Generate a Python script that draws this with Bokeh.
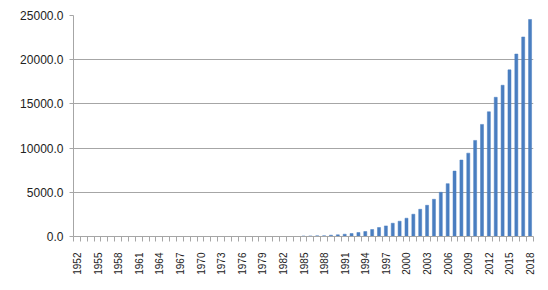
from bokeh.plotting import figure
from bokeh.models import FixedTicker, PrintfTickFormatter, Range1d
from bokeh.embed import file_html
from bokeh.resources import INLINE
import math

years = list(range(1952, 2019))
values_early = [0.0] * (1985 - 1952)  # 1952-1984: not visible
values_late = [60, 70, 80, 90, 150, 190, 260, 340, 450, 560,      # 1985-1994
               790, 1015, 1200, 1500, 1730, 2070, 2520, 3080, 3530, 4210,  # 1995-2004
               5000, 5980, 7400, 8650, 9430, 10870, 12680, 14110, 15750, 17110,  # 2005-2014
               18850, 20640, 22570, 24550]  # 2015-2018
values = values_early + values_late
label_years = list(range(1952, 2019, 3))
y_ticks = [0, 5000, 10000, 15000, 20000, 25000]

p = figure(width=548, height=290, output_backend="svg", toolbar_location=None,
           x_range=Range1d(1951.5, 2018.5), y_range=Range1d(0, 25000),
           min_border_left=73, min_border_right=15, min_border_top=15, min_border_bottom=54)
p.outline_line_color = None
p.background_fill_color = "white"
p.border_fill_color = "white"

p.vbar(x=years, top=values, width=0.44, fill_color="#4A7EC0", line_color="#4A7EC0", line_width=0.5)

FONT = "Liberation Sans"
# y axis
p.yaxis.ticker = FixedTicker(ticks=y_ticks)
p.yaxis.formatter = PrintfTickFormatter(format="%.1f")
p.yaxis.axis_line_color = "#a6a6a6"
p.yaxis.major_tick_line_color = "#a6a6a6"
p.yaxis.major_tick_out = 4
p.yaxis.major_tick_in = 0
p.yaxis.minor_tick_line_color = None
p.yaxis.major_label_text_font = FONT
p.yaxis.major_label_text_font_size = "12px"
p.yaxis.major_label_text_color = "#222222"
p.yaxis.major_label_standoff = 6

# x axis
p.xaxis.ticker = FixedTicker(ticks=label_years, minor_ticks=[y - 0.5 for y in years] + [2018.5])
p.xaxis.axis_line_color = "#a6a6a6"
p.xaxis.major_tick_line_color = None
p.xaxis.major_tick_out = 0
p.xaxis.major_tick_in = 0
p.xaxis.minor_tick_line_color = "#a6a6a6"
p.xaxis.minor_tick_out = 5
p.xaxis.minor_tick_in = 0
p.xaxis.major_label_orientation = math.pi / 2
p.xaxis.major_label_text_font = FONT
p.xaxis.major_label_text_font_size = "10px"
p.xaxis.major_label_text_color = "#222222"
p.xaxis.major_label_standoff = 11

p.xgrid.grid_line_color = None
p.ygrid.ticker = FixedTicker(ticks=y_ticks)
p.ygrid.grid_line_color = "#a6a6a6"
p.ygrid.grid_line_width = 1

open("out.html", "w").write(file_html(p, INLINE))
